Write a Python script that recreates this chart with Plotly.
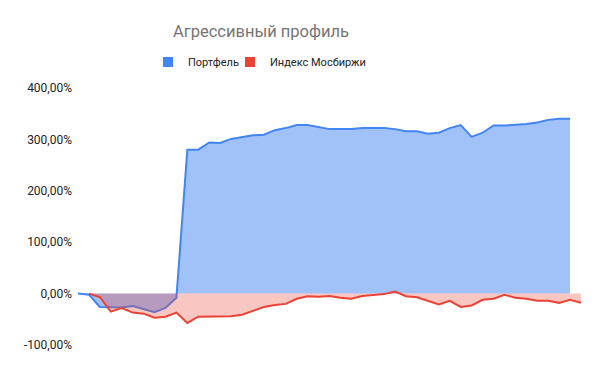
import plotly.graph_objects as go

periods = list(range(47))
portfolio = [0, -2, -26, -27, -27, -24, -30, -36, -28, -8,
             280, 280, 294, 293, 301, 304, 308, 309, 318, 322,
             328, 328, 324, 320, 320, 320, 322, 322, 322, 320,
             316, 316, 311, 313, 322, 328, 305, 313, 327, 327,
             328, 330, 333, 338, 340, 340, None]
moex = [None, 0, -7, -35, -28, -37, -39, -47, -45, -37, -57,
        -45, -45, -45, -44, -41, -33, -26, -22, -20, -10,
        -5, -6, -4.5, -8, -10, -4.5, -3, -1, 4, -5,
        -7, -14, -21, -14, -26, -23, -12, -10, -2.5, -8,
        -10, -14, -14, -18, -12, -18]
tick_vals = [-100, 0, 100, 200, 300, 400]
tick_text = ["-100,00%", "0,00%", "100,00%", "200,00%", "300,00%", "400,00%"]
names = ["Портфель", "Индекс Мосбиржи"]

BLUE = "#4285F4"
RED = "#EA4335"

# the page body adds an 8px offset, so the figure is drawn 8px smaller
W, H = 592, 363

fig = go.Figure()
fig.add_trace(go.Scatter(x=periods, y=portfolio, mode="lines", fill="tozeroy",
                         line=dict(color=BLUE, width=2),
                         fillcolor="rgba(66,133,244,0.5)", showlegend=False,
                         hoverinfo="skip"))
fig.add_trace(go.Scatter(x=periods, y=moex, mode="lines", fill="tozeroy",
                         line=dict(color=RED, width=2),
                         fillcolor="rgba(234,67,53,0.3)", showlegend=False,
                         hoverinfo="skip"))
# legend entries (one legend box per entry to keep the compact spacing)
fig.add_trace(go.Scatter(x=[None], y=[None], mode="markers", name=names[0],
                         marker=dict(symbol="square", size=10, color=BLUE),
                         legend="legend"))
fig.add_trace(go.Scatter(x=[None], y=[None], mode="markers", name=names[1],
                         marker=dict(symbol="square", size=10, color=RED),
                         legend="legend2"))

leg_common = dict(orientation="h", xref="container", xanchor="left",
                  y=1 - 54 / H, yref="container", yanchor="middle",
                  font=dict(size=11, color="#222222"), itemwidth=30,
                  bgcolor="rgba(0,0,0,0)")

fig.update_layout(
    width=W, height=H,
    margin=dict(l=70, r=19, t=80, b=26, autoexpand=False),
    paper_bgcolor="white", plot_bgcolor="white",
    font=dict(family="Roboto", size=12, color="#222222"),
    title=dict(text="Агрессивный профиль", x=253 / W, xref="container", xanchor="center",
               y=1 - 23 / H, yref="container", yanchor="middle",
               font=dict(family="Roboto", size=16.5, color="#757575")),
    legend=dict(x=140 / W, **leg_common),
    legend2=dict(x=222 / W, **leg_common),
    xaxis=dict(range=[0, 46], showgrid=False, zeroline=False, showticklabels=False,
               showline=False, fixedrange=True),
    yaxis=dict(range=[-100, 400], tickvals=tick_vals, ticktext=tick_text,
               showgrid=False, zeroline=False, showline=False, ticks="",
               ticklabelstandoff=5,
               tickfont=dict(size=12, color="#222222"), fixedrange=True),
)

fig.write_html("out.html")
